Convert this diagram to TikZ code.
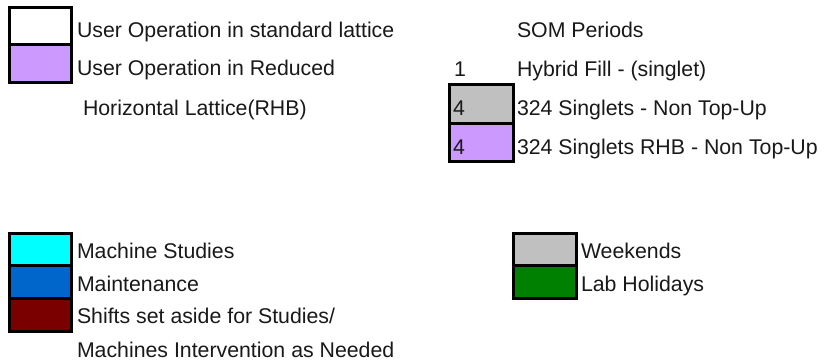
\documentclass[tikz,border=0pt]{standalone}
\usepackage{fontspec}
\setmainfont{Liberation Sans}
\definecolor{rhb}{HTML}{CC99FF}
\definecolor{wkgray}{HTML}{C0C0C0}
\definecolor{studies}{HTML}{00FFFF}
\definecolor{maint}{HTML}{0066CC}
\definecolor{shifts}{HTML}{7A0000}
\definecolor{holiday}{HTML}{008000}
\tikzset{
  lbl/.style={anchor=base west,inner sep=0pt,outer sep=0pt,font=\fontsize{21.3}{25}\selectfont,text=black!90},
  swatch/.style={draw=black,line width=3pt},
}
\begin{document}
\begin{tikzpicture}[x=1pt,y=-1pt]
\useasboundingbox[fill=white] (0,0) rectangle (825,362);
% top-left swatches
\filldraw[swatch,fill=white] (9,7) rectangle (71,44);
\filldraw[swatch,fill=rhb] (9,44) rectangle (71,82);
\node[lbl] (t1) at (77,37) {User Operation in standard lattice};
\node[lbl] (t2) at (77,75) {User Operation in Reduced};
\node[lbl] (t3) at (83,115) {Horizontal Lattice(RHB)};
% top-right
\node[lbl] (som) at (517,37) {SOM Periods};
\node[lbl] (n1) at (454,76) {1};
\node[lbl] (hyb) at (517,76) {Hybrid Fill - (singlet)};
\filldraw[swatch,fill=wkgray] (449,84) rectangle (513,123);
\filldraw[swatch,fill=rhb] (449,123) rectangle (513,161);
\node[lbl] (n4a) at (453,115) {4};
\node[lbl] (s1) at (517,115) {324 Singlets - Non Top-Up};
\node[lbl] (n4b) at (453,154) {4};
\node[lbl] (s2) at (517,154) {324 Singlets RHB - Non Top-Up};
% bottom-left
\filldraw[swatch,fill=studies] (9,233) rectangle (71,265);
\filldraw[swatch,fill=maint] (9,265) rectangle (71,298);
\filldraw[swatch,fill=shifts] (9,298) rectangle (71,331);
\node[lbl] (b1) at (77,258) {Machine Studies};
\node[lbl] (b2) at (77,291) {Maintenance};
\node[lbl] (b3) at (77,323) {Shifts set aside for Studies/};
\node[lbl] (b4) at (77,357) {Machines Intervention as Needed};
% bottom-right
\filldraw[swatch,fill=wkgray] (513,233) rectangle (576,265);
\filldraw[swatch,fill=holiday] (513,265) rectangle (576,298);
\node[lbl] (w1) at (581,258) {Weekends};
\node[lbl] (w2) at (581,291) {Lab Holidays};
\end{tikzpicture}
\end{document}
